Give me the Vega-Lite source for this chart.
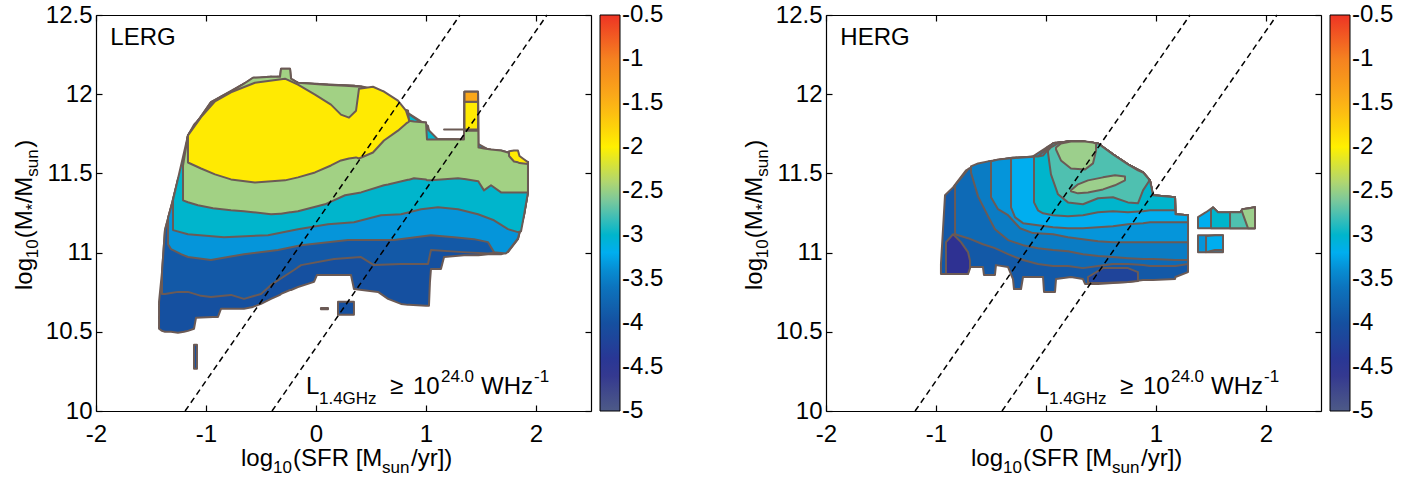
{
"$schema": "https://vega.github.io/schema/vega-lite/v6.json",
"background": "white",
"padding": {"left": 12, "top": 3, "right": 5, "bottom": 2},
"spacing": 78,
"resolve": {"scale": {"color": "independent"}},
"config": {
  "font": "Liberation Sans",
  "view": {"stroke": null},
  "axis": {"grid": false, "domainColor": "#000", "domainWidth": 1.2, "tickColor": "#000", "tickWidth": 1.2, "tickSize": -6, "labelPadding": 10, "labelFont": "Liberation Sans", "labelFontSize": 24, "labelColor": "#000", "labelFlush": false, "labelOverlap": false, "title": null},
  "legend": {"gradientVerticalMaxLength": 500, "gradientLength": 396, "gradientThickness": 20, "padding": 0, "offset": 8, "labelFont": "Liberation Sans", "labelFontSize": 24, "labelColor": "#000", "labelOffset": 3, "labelOverlap": false, "gradientStrokeColor": "#000", "gradientStrokeWidth": 1}
},
"datasets": {
"lines": [{"x1": -1.19, "y1": 10, "x2": 1.31, "y2": 12.5}, {"x1": -0.40, "y1": 10, "x2": 2.10, "y2": 12.5}],
"txt": [
{"p": "L", "g": "t24", "label": "LERG", "x": -1.87, "y": 12.311},
{"p": "R", "g": "t24", "label": "HERG", "x": -1.87, "y": 12.311},
{"p": "both", "g": "t24", "label": "L", "x": -0.091, "y": 10.107},
{"p": "both", "g": "t24", "label": "≥", "x": 0.673, "y": 10.107},
{"p": "both", "g": "t24", "label": "10", "x": 0.882, "y": 10.107},
{"p": "both", "g": "t24", "label": "WHz", "x": 1.50, "y": 10.107},
{"p": "both", "g": "t24", "label": "log", "x": -0.682, "y": 9.653},
{"p": "both", "g": "t24", "label": "(SFR [M", "x": -0.209, "y": 9.653},
{"p": "both", "g": "t24", "label": "/yr])", "x": 0.864, "y": 9.653},
{"p": "both", "g": "t17", "label": "1.4GHz", "x": 0.027, "y": 10.045},
{"p": "both", "g": "t17", "label": "24.0", "x": 1.136, "y": 10.183},
{"p": "both", "g": "t17", "label": "-1", "x": 1.982, "y": 10.183},
{"p": "both", "g": "t17", "label": "10", "x": -0.391, "y": 9.609},
{"p": "both", "g": "t17", "label": "sun", "x": 0.60, "y": 9.609},
{"p": "both", "g": "r24", "label": "log", "x": -2.582, "y": 10.764},
{"p": "both", "g": "r24", "label": "(M", "x": -2.582, "y": 11.091},
{"p": "both", "g": "r24", "label": "/M", "x": -2.582, "y": 11.311},
{"p": "both", "g": "r24", "label": ")", "x": -2.582, "y": 11.662},
{"p": "both", "g": "r17", "label": "10", "x": -2.527, "y": 10.965},
{"p": "both", "g": "r17", "label": "*", "x": -2.527, "y": 11.267},
{"p": "both", "g": "r17", "label": "sun", "x": -2.527, "y": 11.479}
],
"regions": [
{"p":"L","r":"O","v":-4,"x":-1.427,"lo":10.519,"hi":10.689},
{"p":"L","r":"O","v":-4,"x":-1.400,"lo":10.506,"hi":10.877},
{"p":"L","r":"O","v":-4,"x":-1.373,"lo":10.50,"hi":11.142},
{"p":"L","r":"O","v":-4,"x":-1.318,"lo":10.50,"hi":11.286},
{"p":"L","r":"O","v":-4,"x":-1.255,"lo":10.494,"hi":11.462},
{"p":"L","r":"O","v":-4,"x":-1.200,"lo":10.50,"hi":11.550},
{"p":"L","r":"O","v":-4,"x":-1.164,"lo":10.506,"hi":11.739},
{"p":"L","r":"O","v":-4,"x":-1.109,"lo":10.519,"hi":11.808},
{"p":"L","r":"O","v":-4,"x":-1.091,"lo":10.588,"hi":11.821},
{"p":"L","r":"O","v":-4,"x":-0.936,"lo":10.594,"hi":11.947},
{"p":"L","r":"O","v":-4,"x":-0.891,"lo":10.594,"hi":11.972},
{"p":"L","r":"O","v":-4,"x":-0.864,"lo":10.645,"hi":11.984},
{"p":"L","r":"O","v":-4,"x":-0.773,"lo":10.645,"hi":12.016},
{"p":"L","r":"O","v":-4,"x":-0.655,"lo":10.645,"hi":12.066},
{"p":"L","r":"O","v":-4,"x":-0.573,"lo":10.657,"hi":12.104},
{"p":"L","r":"O","v":-4,"x":-0.50,"lo":10.676,"hi":12.104},
{"p":"L","r":"O","v":-4,"x":-0.409,"lo":10.708,"hi":12.11},
{"p":"L","r":"O","v":-4,"x":-0.327,"lo":10.733,"hi":12.11},
{"p":"L","r":"O","v":-4,"x":-0.318,"lo":10.739,"hi":12.16},
{"p":"L","r":"O","v":-4,"x":-0.236,"lo":10.764,"hi":12.16},
{"p":"L","r":"O","v":-4,"x":-0.227,"lo":10.764,"hi":12.098},
{"p":"L","r":"O","v":-4,"x":-0.164,"lo":10.783,"hi":12.072},
{"p":"L","r":"O","v":-4,"x":-0.018,"lo":10.815,"hi":12.066},
{"p":"L","r":"O","v":-4,"x":0.009,"lo":10.859,"hi":12.066},
{"p":"L","r":"O","v":-4,"x":0.109,"lo":10.859,"hi":12.06},
{"p":"L","r":"O","v":-4,"x":0.318,"lo":10.859,"hi":12.053},
{"p":"L","r":"O","v":-4,"x":0.345,"lo":10.770,"hi":12.053},
{"p":"L","r":"O","v":-4,"x":0.564,"lo":10.752,"hi":12.022},
{"p":"L","r":"O","v":-4,"x":0.655,"lo":10.708,"hi":11.928},
{"p":"L","r":"O","v":-4,"x":0.773,"lo":10.676,"hi":11.909},
{"p":"L","r":"O","v":-4,"x":0.836,"lo":10.670,"hi":11.896},
{"p":"L","r":"O","v":-4,"x":0.845,"lo":10.670,"hi":11.833},
{"p":"L","r":"O","v":-4,"x":1.0,"lo":10.664,"hi":11.821},
{"p":"L","r":"O","v":-4,"x":1.009,"lo":10.664,"hi":11.714},
{"p":"L","r":"O","v":-4,"x":1.027,"lo":10.664,"hi":11.714},
{"p":"L","r":"O","v":-4,"x":1.036,"lo":10.815,"hi":11.714},
{"p":"L","r":"O","v":-4,"x":1.045,"lo":10.896,"hi":11.714},
{"p":"L","r":"O","v":-4,"x":1.136,"lo":10.896,"hi":11.714},
{"p":"L","r":"O","v":-4,"x":1.164,"lo":10.972,"hi":11.714},
{"p":"L","r":"O","v":-4,"x":1.345,"lo":10.984,"hi":11.714},
{"p":"L","r":"O","v":-4,"x":1.35,"lo":10.984,"hi":12.016},
{"p":"L","r":"O","v":-4,"x":1.473,"lo":10.984,"hi":12.016},
{"p":"L","r":"O","v":-4,"x":1.477,"lo":10.984,"hi":11.664},
{"p":"L","r":"O","v":-4,"x":1.564,"lo":10.990,"hi":11.651},
{"p":"L","r":"O","v":-4,"x":1.682,"lo":10.990,"hi":11.645},
{"p":"L","r":"O","v":-4,"x":1.745,"lo":11.003,"hi":11.632},
{"p":"L","r":"O","v":-4,"x":1.836,"lo":11.085,"hi":11.601},
{"p":"L","r":"O","v":-4,"x":1.891,"lo":11.236,"hi":11.582},
{"p":"L","r":"O","v":-4,"x":1.927,"lo":11.380,"hi":11.569},
{"p":"L","r":"rect","v":-4,"x":0.2,"lo":10.607,"hi":10.689},
{"p":"L","r":"rect","v":-4,"x":0.345,"lo":10.607,"hi":10.689},
{"p":"L","r":"sliver","v":-4,"x":-1.109,"lo":10.267,"hi":10.418},
{"p":"L","r":"sliver","v":-4,"x":-1.082,"lo":10.267,"hi":10.418},
{"p":"L","r":"dash","v":-4,"x":0.045,"lo":10.643,"hi":10.65},
{"p":"L","r":"dash","v":-4,"x":0.109,"lo":10.643,"hi":10.65},
{"p":"L","r":"A","v":-3.9,"x":-1.400,"lo":10.739,"hi":10.877},
{"p":"L","r":"A","v":-3.9,"x":-1.373,"lo":10.739,"hi":11.142},
{"p":"L","r":"A","v":-3.9,"x":-1.318,"lo":10.745,"hi":11.286},
{"p":"L","r":"A","v":-3.9,"x":-1.255,"lo":10.752,"hi":11.462},
{"p":"L","r":"A","v":-3.9,"x":-1.200,"lo":10.752,"hi":11.550},
{"p":"L","r":"A","v":-3.9,"x":-1.164,"lo":10.752,"hi":11.739},
{"p":"L","r":"A","v":-3.9,"x":-1.045,"lo":10.727,"hi":11.86},
{"p":"L","r":"A","v":-3.9,"x":-0.955,"lo":10.72,"hi":11.95},
{"p":"L","r":"A","v":-3.9,"x":-0.773,"lo":10.733,"hi":12.016},
{"p":"L","r":"A","v":-3.9,"x":-0.655,"lo":10.708,"hi":12.066},
{"p":"L","r":"A","v":-3.9,"x":-0.50,"lo":10.739,"hi":12.104},
{"p":"L","r":"A","v":-3.9,"x":-0.409,"lo":10.796,"hi":12.11},
{"p":"L","r":"A","v":-3.9,"x":-0.20,"lo":10.890,"hi":12.07},
{"p":"L","r":"A","v":-3.9,"x":-0.136,"lo":10.921,"hi":12.066},
{"p":"L","r":"A","v":-3.9,"x":0.164,"lo":10.959,"hi":12.06},
{"p":"L","r":"A","v":-3.9,"x":0.409,"lo":10.972,"hi":12.05},
{"p":"L","r":"A","v":-3.9,"x":0.527,"lo":10.921,"hi":12.03},
{"p":"L","r":"A","v":-3.9,"x":0.773,"lo":10.928,"hi":11.909},
{"p":"L","r":"A","v":-3.9,"x":1.018,"lo":10.928,"hi":11.80},
{"p":"L","r":"A","v":-3.9,"x":1.045,"lo":11.016,"hi":11.714},
{"p":"L","r":"A","v":-3.9,"x":1.336,"lo":11.003,"hi":11.714},
{"p":"L","r":"A","v":-3.9,"x":1.564,"lo":10.995,"hi":11.651},
{"p":"L","r":"A","v":-3.9,"x":1.745,"lo":11.008,"hi":11.632},
{"p":"L","r":"A","v":-3.9,"x":1.836,"lo":11.09,"hi":11.601},
{"p":"L","r":"A","v":-3.9,"x":1.891,"lo":11.24,"hi":11.582},
{"p":"L","r":"A","v":-3.9,"x":1.927,"lo":11.385,"hi":11.569},
{"p":"L","r":"B","v":-3.35,"x":-1.345,"lo":11.053,"hi":11.22},
{"p":"L","r":"B","v":-3.35,"x":-1.318,"lo":11.022,"hi":11.286},
{"p":"L","r":"B","v":-3.35,"x":-1.227,"lo":10.990,"hi":11.475},
{"p":"L","r":"B","v":-3.35,"x":-1.164,"lo":10.972,"hi":11.739},
{"p":"L","r":"B","v":-3.35,"x":-0.955,"lo":10.953,"hi":11.95},
{"p":"L","r":"B","v":-3.35,"x":-0.655,"lo":10.990,"hi":12.066},
{"p":"L","r":"B","v":-3.35,"x":-0.345,"lo":11.016,"hi":12.11},
{"p":"L","r":"B","v":-3.35,"x":-0.136,"lo":11.047,"hi":12.066},
{"p":"L","r":"B","v":-3.35,"x":0.291,"lo":11.079,"hi":12.05},
{"p":"L","r":"B","v":-3.35,"x":0.709,"lo":11.079,"hi":11.95},
{"p":"L","r":"B","v":-3.35,"x":1.045,"lo":11.110,"hi":11.714},
{"p":"L","r":"B","v":-3.35,"x":1.255,"lo":11.097,"hi":11.714},
{"p":"L","r":"B","v":-3.35,"x":1.436,"lo":11.085,"hi":11.70},
{"p":"L","r":"B","v":-3.35,"x":1.564,"lo":11.066,"hi":11.651},
{"p":"L","r":"B","v":-3.35,"x":1.618,"lo":11.003,"hi":11.645},
{"p":"L","r":"B","v":-3.35,"x":1.727,"lo":10.995,"hi":11.635},
{"p":"L","r":"B","v":-3.35,"x":1.745,"lo":11.008,"hi":11.632},
{"p":"L","r":"B","v":-3.35,"x":1.836,"lo":11.09,"hi":11.601},
{"p":"L","r":"B","v":-3.35,"x":1.891,"lo":11.24,"hi":11.582},
{"p":"L","r":"B","v":-3.35,"x":1.927,"lo":11.385,"hi":11.569},
{"p":"L","r":"C","v":-3.0,"x":-1.300,"lo":11.142,"hi":11.33},
{"p":"L","r":"C","v":-3.0,"x":-1.164,"lo":11.116,"hi":11.739},
{"p":"L","r":"C","v":-3.0,"x":-0.836,"lo":11.097,"hi":11.99},
{"p":"L","r":"C","v":-3.0,"x":-0.436,"lo":11.110,"hi":12.11},
{"p":"L","r":"C","v":-3.0,"x":-0.164,"lo":11.148,"hi":12.072},
{"p":"L","r":"C","v":-3.0,"x":0.109,"lo":11.179,"hi":12.06},
{"p":"L","r":"C","v":-3.0,"x":0.345,"lo":11.192,"hi":12.053},
{"p":"L","r":"C","v":-3.0,"x":0.591,"lo":11.236,"hi":12.02},
{"p":"L","r":"C","v":-3.0,"x":0.773,"lo":11.242,"hi":11.909},
{"p":"L","r":"C","v":-3.0,"x":0.955,"lo":11.274,"hi":11.821},
{"p":"L","r":"C","v":-3.0,"x":1.109,"lo":11.286,"hi":11.714},
{"p":"L","r":"C","v":-3.0,"x":1.291,"lo":11.274,"hi":11.714},
{"p":"L","r":"C","v":-3.0,"x":1.473,"lo":11.242,"hi":11.664},
{"p":"L","r":"C","v":-3.0,"x":1.618,"lo":11.204,"hi":11.645},
{"p":"L","r":"C","v":-3.0,"x":1.745,"lo":11.148,"hi":11.632},
{"p":"L","r":"C","v":-3.0,"x":1.836,"lo":11.129,"hi":11.601},
{"p":"L","r":"C","v":-3.0,"x":1.864,"lo":11.135,"hi":11.59},
{"p":"L","r":"C","v":-3.0,"x":1.891,"lo":11.236,"hi":11.582},
{"p":"L","r":"C","v":-3.0,"x":1.927,"lo":11.38,"hi":11.569},
{"p":"L","r":"D","v":-2.47,"x":-1.209,"lo":11.330,"hi":11.550},
{"p":"L","r":"D","v":-2.47,"x":-1.164,"lo":11.318,"hi":11.739},
{"p":"L","r":"D","v":-2.47,"x":-1.073,"lo":11.299,"hi":11.833},
{"p":"L","r":"D","v":-2.47,"x":-0.936,"lo":11.280,"hi":11.947},
{"p":"L","r":"D","v":-2.47,"x":-0.773,"lo":11.267,"hi":12.016},
{"p":"L","r":"D","v":-2.47,"x":-0.655,"lo":11.261,"hi":12.066},
{"p":"L","r":"D","v":-2.47,"x":-0.573,"lo":11.255,"hi":12.104},
{"p":"L","r":"D","v":-2.47,"x":-0.409,"lo":11.242,"hi":12.11},
{"p":"L","r":"D","v":-2.47,"x":-0.327,"lo":11.245,"hi":12.11},
{"p":"L","r":"D","v":-2.47,"x":-0.318,"lo":11.245,"hi":12.16},
{"p":"L","r":"D","v":-2.47,"x":-0.236,"lo":11.255,"hi":12.16},
{"p":"L","r":"D","v":-2.47,"x":-0.227,"lo":11.255,"hi":12.098},
{"p":"L","r":"D","v":-2.47,"x":-0.164,"lo":11.261,"hi":12.072},
{"p":"L","r":"D","v":-2.47,"x":0.082,"lo":11.305,"hi":12.06},
{"p":"L","r":"D","v":-2.47,"x":0.264,"lo":11.362,"hi":12.053},
{"p":"L","r":"D","v":-2.47,"x":0.409,"lo":11.380,"hi":12.047},
{"p":"L","r":"D","v":-2.47,"x":0.618,"lo":11.425,"hi":12.016},
{"p":"L","r":"D","v":-2.47,"x":0.655,"lo":11.430,"hi":11.928},
{"p":"L","r":"D","v":-2.47,"x":0.836,"lo":11.460,"hi":11.896},
{"p":"L","r":"D","v":-2.47,"x":0.845,"lo":11.460,"hi":11.833},
{"p":"L","r":"D","v":-2.47,"x":0.891,"lo":11.469,"hi":11.827},
{"p":"L","r":"D","v":-2.47,"x":1.0,"lo":11.462,"hi":11.821},
{"p":"L","r":"D","v":-2.47,"x":1.009,"lo":11.456,"hi":11.714},
{"p":"L","r":"D","v":-2.47,"x":1.045,"lo":11.456,"hi":11.714},
{"p":"L","r":"D","v":-2.47,"x":1.291,"lo":11.469,"hi":11.714},
{"p":"L","r":"D","v":-2.47,"x":1.345,"lo":11.465,"hi":11.714},
{"p":"L","r":"D","v":-2.47,"x":1.35,"lo":11.465,"hi":12.016},
{"p":"L","r":"D","v":-2.47,"x":1.473,"lo":11.450,"hi":12.016},
{"p":"L","r":"D","v":-2.47,"x":1.477,"lo":11.450,"hi":11.664},
{"p":"L","r":"D","v":-2.47,"x":1.482,"lo":11.443,"hi":11.664},
{"p":"L","r":"D","v":-2.47,"x":1.527,"lo":11.393,"hi":11.657},
{"p":"L","r":"D","v":-2.47,"x":1.591,"lo":11.425,"hi":11.651},
{"p":"L","r":"D","v":-2.47,"x":1.682,"lo":11.380,"hi":11.645},
{"p":"L","r":"D","v":-2.47,"x":1.745,"lo":11.380,"hi":11.632},
{"p":"L","r":"D","v":-2.47,"x":1.836,"lo":11.380,"hi":11.601},
{"p":"L","r":"D","v":-2.47,"x":1.909,"lo":11.380,"hi":11.576},
{"p":"L","r":"D","v":-2.47,"x":1.927,"lo":11.380,"hi":11.569},
{"p":"L","r":"Y","v":-1.95,"x":-1.164,"lo":11.569,"hi":11.739},
{"p":"L","r":"Y","v":-1.95,"x":-1.045,"lo":11.531,"hi":11.855},
{"p":"L","r":"Y","v":-1.95,"x":-0.918,"lo":11.494,"hi":11.955},
{"p":"L","r":"Y","v":-1.95,"x":-0.773,"lo":11.462,"hi":12.012},
{"p":"L","r":"Y","v":-1.95,"x":-0.555,"lo":11.443,"hi":12.072},
{"p":"L","r":"Y","v":-1.95,"x":-0.282,"lo":11.456,"hi":12.098},
{"p":"L","r":"Y","v":-1.95,"x":-0.164,"lo":11.475,"hi":12.06},
{"p":"L","r":"Y","v":-1.95,"x":-0.009,"lo":11.506,"hi":11.997},
{"p":"L","r":"Y","v":-1.95,"x":0.136,"lo":11.550,"hi":11.934},
{"p":"L","r":"Y","v":-1.95,"x":0.227,"lo":11.582,"hi":11.871},
{"p":"L","r":"Y","v":-1.95,"x":0.30,"lo":11.594,"hi":11.852},
{"p":"L","r":"Y","v":-1.95,"x":0.364,"lo":11.601,"hi":11.896},
{"p":"L","r":"Y","v":-1.95,"x":0.391,"lo":11.594,"hi":12.035},
{"p":"L","r":"Y","v":-1.95,"x":0.518,"lo":11.632,"hi":12.047},
{"p":"L","r":"Y","v":-1.95,"x":0.618,"lo":11.708,"hi":12.016},
{"p":"L","r":"Y","v":-1.95,"x":0.745,"lo":11.770,"hi":11.959},
{"p":"L","r":"Y","v":-1.95,"x":0.818,"lo":11.814,"hi":11.896},
{"p":"L","r":"Y","v":-1.95,"x":0.845,"lo":11.827,"hi":11.839},
{"p":"L","r":"Yb","v":-1.95,"x":1.755,"lo":11.61,"hi":11.64},
{"p":"L","r":"Yb","v":-1.95,"x":1.80,"lo":11.575,"hi":11.645},
{"p":"L","r":"Yb","v":-1.95,"x":1.836,"lo":11.57,"hi":11.645},
{"p":"L","r":"Yb","v":-1.95,"x":1.85,"lo":11.565,"hi":11.61},
{"p":"L","r":"Yb","v":-1.95,"x":1.927,"lo":11.56,"hi":11.57},
{"p":"L","r":"Sy","v":-1.95,"x":1.35,"lo":11.77,"hi":11.952},
{"p":"L","r":"Sy","v":-1.95,"x":1.473,"lo":11.77,"hi":11.952},
{"p":"L","r":"So","v":-1.4,"x":1.35,"lo":11.952,"hi":12.016},
{"p":"L","r":"So","v":-1.4,"x":1.473,"lo":11.952,"hi":12.016},
{"p":"L","r":"line","v":-2.47,"x":1.164,"lo":11.777,"hi":11.777},
{"p":"L","r":"line","v":-2.47,"x":1.473,"lo":11.777,"hi":11.777},
{"p":"R","r":"O","v":-3.9,"x":-0.955,"lo":10.865,"hi":10.928},
{"p":"R","r":"O","v":-3.9,"x":-0.918,"lo":10.865,"hi":11.362},
{"p":"R","r":"O","v":-3.9,"x":-0.845,"lo":10.865,"hi":11.412},
{"p":"R","r":"O","v":-3.9,"x":-0.727,"lo":10.865,"hi":11.519},
{"p":"R","r":"O","v":-3.9,"x":-0.709,"lo":10.865,"hi":11.525},
{"p":"R","r":"O","v":-3.9,"x":-0.70,"lo":10.909,"hi":11.531},
{"p":"R","r":"O","v":-3.9,"x":-0.573,"lo":10.909,"hi":11.563},
{"p":"R","r":"O","v":-3.9,"x":-0.564,"lo":10.859,"hi":11.563},
{"p":"R","r":"O","v":-3.9,"x":-0.464,"lo":10.859,"hi":11.582},
{"p":"R","r":"O","v":-3.9,"x":-0.455,"lo":10.921,"hi":11.582},
{"p":"R","r":"O","v":-3.9,"x":-0.345,"lo":10.909,"hi":11.594},
{"p":"R","r":"O","v":-3.9,"x":-0.30,"lo":10.833,"hi":11.601},
{"p":"R","r":"O","v":-3.9,"x":-0.291,"lo":10.770,"hi":11.601},
{"p":"R","r":"O","v":-3.9,"x":-0.227,"lo":10.770,"hi":11.601},
{"p":"R","r":"O","v":-3.9,"x":-0.209,"lo":10.846,"hi":11.601},
{"p":"R","r":"O","v":-3.9,"x":-0.027,"lo":10.846,"hi":11.613},
{"p":"R","r":"O","v":-3.9,"x":-0.018,"lo":10.752,"hi":11.620},
{"p":"R","r":"O","v":-3.9,"x":0.009,"lo":10.752,"hi":11.664},
{"p":"R","r":"O","v":-3.9,"x":0.082,"lo":10.752,"hi":11.695},
{"p":"R","r":"O","v":-3.9,"x":0.091,"lo":10.833,"hi":11.695},
{"p":"R","r":"O","v":-3.9,"x":0.227,"lo":10.846,"hi":11.701},
{"p":"R","r":"O","v":-3.9,"x":0.336,"lo":10.833,"hi":11.701},
{"p":"R","r":"O","v":-3.9,"x":0.355,"lo":10.802,"hi":11.695},
{"p":"R","r":"O","v":-3.9,"x":0.473,"lo":10.802,"hi":11.689},
{"p":"R","r":"O","v":-3.9,"x":0.609,"lo":10.808,"hi":11.620},
{"p":"R","r":"O","v":-3.9,"x":0.745,"lo":10.815,"hi":11.557},
{"p":"R","r":"O","v":-3.9,"x":0.882,"lo":10.827,"hi":11.506},
{"p":"R","r":"O","v":-3.9,"x":0.945,"lo":10.827,"hi":11.456},
{"p":"R","r":"O","v":-3.9,"x":0.973,"lo":10.827,"hi":11.362},
{"p":"R","r":"O","v":-3.9,"x":1.173,"lo":10.833,"hi":11.349},
{"p":"R","r":"O","v":-3.9,"x":1.177,"lo":10.846,"hi":11.242},
{"p":"R","r":"O","v":-3.9,"x":1.291,"lo":10.877,"hi":11.236},
{"p":"R","r":"ind","v":-4.5,"x":-0.909,"lo":10.865,"hi":11.066},
{"p":"R","r":"ind","v":-4.5,"x":-0.845,"lo":10.865,"hi":11.116},
{"p":"R","r":"ind","v":-4.5,"x":-0.773,"lo":10.865,"hi":11.066},
{"p":"R","r":"ind","v":-4.5,"x":-0.709,"lo":10.865,"hi":11.003},
{"p":"R","r":"ind","v":-4.5,"x":-0.691,"lo":10.90,"hi":10.95},
{"p":"R","r":"dk","v":-4.2,"x":0.382,"lo":10.808,"hi":10.846},
{"p":"R","r":"dk","v":-4.2,"x":0.518,"lo":10.808,"hi":10.902},
{"p":"R","r":"dk","v":-4.2,"x":0.745,"lo":10.815,"hi":10.902},
{"p":"R","r":"dk","v":-4.2,"x":0.836,"lo":10.821,"hi":10.877},
{"p":"R","r":"R2","v":-3.7,"x":-0.827,"lo":11.116,"hi":11.425},
{"p":"R","r":"R2","v":-3.7,"x":-0.709,"lo":11.091,"hi":11.525},
{"p":"R","r":"R2","v":-3.7,"x":-0.573,"lo":11.053,"hi":11.563},
{"p":"R","r":"R2","v":-3.7,"x":-0.464,"lo":11.028,"hi":11.582},
{"p":"R","r":"R2","v":-3.7,"x":-0.345,"lo":10.990,"hi":11.594},
{"p":"R","r":"R2","v":-3.7,"x":-0.209,"lo":10.953,"hi":11.601},
{"p":"R","r":"R2","v":-3.7,"x":-0.073,"lo":10.928,"hi":11.607},
{"p":"R","r":"R2","v":-3.7,"x":0.064,"lo":10.915,"hi":11.689},
{"p":"R","r":"R2","v":-3.7,"x":0.20,"lo":10.915,"hi":11.701},
{"p":"R","r":"R2","v":-3.7,"x":0.336,"lo":10.902,"hi":11.701},
{"p":"R","r":"R2","v":-3.7,"x":0.473,"lo":10.915,"hi":11.689},
{"p":"R","r":"R2","v":-3.7,"x":0.609,"lo":10.928,"hi":11.620},
{"p":"R","r":"R2","v":-3.7,"x":0.745,"lo":10.928,"hi":11.557},
{"p":"R","r":"R2","v":-3.7,"x":0.882,"lo":10.921,"hi":11.506},
{"p":"R","r":"R2","v":-3.7,"x":0.945,"lo":10.915,"hi":11.456},
{"p":"R","r":"R2","v":-3.7,"x":0.973,"lo":10.915,"hi":11.362},
{"p":"R","r":"R2","v":-3.7,"x":1.173,"lo":10.915,"hi":11.349},
{"p":"R","r":"R2","v":-3.7,"x":1.177,"lo":10.915,"hi":11.242},
{"p":"R","r":"R2","v":-3.7,"x":1.291,"lo":10.928,"hi":11.236},
{"p":"R","r":"R3","v":-3.5,"x":-0.682,"lo":11.506,"hi":11.544},
{"p":"R","r":"R3","v":-3.5,"x":-0.618,"lo":11.355,"hi":11.563},
{"p":"R","r":"R3","v":-3.5,"x":-0.527,"lo":11.23,"hi":11.576},
{"p":"R","r":"R3","v":-3.5,"x":-0.464,"lo":11.148,"hi":11.582},
{"p":"R","r":"R3","v":-3.5,"x":-0.345,"lo":11.079,"hi":11.594},
{"p":"R","r":"R3","v":-3.5,"x":-0.209,"lo":11.047,"hi":11.601},
{"p":"R","r":"R3","v":-3.5,"x":-0.073,"lo":11.028,"hi":11.607},
{"p":"R","r":"R3","v":-3.5,"x":0.064,"lo":11.016,"hi":11.689},
{"p":"R","r":"R3","v":-3.5,"x":0.20,"lo":11.009,"hi":11.701},
{"p":"R","r":"R3","v":-3.5,"x":0.336,"lo":10.990,"hi":11.701},
{"p":"R","r":"R3","v":-3.5,"x":0.473,"lo":10.978,"hi":11.689},
{"p":"R","r":"R3","v":-3.5,"x":0.609,"lo":10.972,"hi":11.620},
{"p":"R","r":"R3","v":-3.5,"x":0.745,"lo":10.965,"hi":11.557},
{"p":"R","r":"R3","v":-3.5,"x":0.882,"lo":10.959,"hi":11.506},
{"p":"R","r":"R3","v":-3.5,"x":0.945,"lo":10.959,"hi":11.456},
{"p":"R","r":"R3","v":-3.5,"x":0.973,"lo":10.959,"hi":11.362},
{"p":"R","r":"R3","v":-3.5,"x":1.173,"lo":10.953,"hi":11.349},
{"p":"R","r":"R3","v":-3.5,"x":1.177,"lo":10.953,"hi":11.242},
{"p":"R","r":"R3","v":-3.5,"x":1.291,"lo":10.953,"hi":11.236},
{"p":"R","r":"R4","v":-3.35,"x":-0.50,"lo":11.349,"hi":11.576},
{"p":"R","r":"R4","v":-3.35,"x":-0.436,"lo":11.274,"hi":11.588},
{"p":"R","r":"R4","v":-3.35,"x":-0.345,"lo":11.236,"hi":11.594},
{"p":"R","r":"R4","v":-3.35,"x":-0.236,"lo":11.154,"hi":11.601},
{"p":"R","r":"R4","v":-3.35,"x":-0.118,"lo":11.123,"hi":11.607},
{"p":"R","r":"R4","v":-3.35,"x":0.064,"lo":11.116,"hi":11.689},
{"p":"R","r":"R4","v":-3.35,"x":0.20,"lo":11.097,"hi":11.701},
{"p":"R","r":"R4","v":-3.35,"x":0.336,"lo":11.085,"hi":11.701},
{"p":"R","r":"R4","v":-3.35,"x":0.473,"lo":11.072,"hi":11.689},
{"p":"R","r":"R4","v":-3.35,"x":0.609,"lo":11.066,"hi":11.620},
{"p":"R","r":"R4","v":-3.35,"x":0.745,"lo":11.066,"hi":11.557},
{"p":"R","r":"R4","v":-3.35,"x":0.882,"lo":11.066,"hi":11.506},
{"p":"R","r":"R4","v":-3.35,"x":0.945,"lo":11.066,"hi":11.456},
{"p":"R","r":"R4","v":-3.35,"x":0.973,"lo":11.066,"hi":11.362},
{"p":"R","r":"R4","v":-3.35,"x":1.173,"lo":11.066,"hi":11.349},
{"p":"R","r":"R4","v":-3.35,"x":1.177,"lo":11.066,"hi":11.242},
{"p":"R","r":"R4","v":-3.35,"x":1.291,"lo":11.066,"hi":11.236},
{"p":"R","r":"R5","v":-3.2,"x":-0.318,"lo":11.286,"hi":11.594},
{"p":"R","r":"R5","v":-3.2,"x":-0.282,"lo":11.224,"hi":11.597},
{"p":"R","r":"R5","v":-3.2,"x":-0.209,"lo":11.186,"hi":11.601},
{"p":"R","r":"R5","v":-3.2,"x":-0.073,"lo":11.173,"hi":11.607},
{"p":"R","r":"R5","v":-3.2,"x":0.064,"lo":11.160,"hi":11.689},
{"p":"R","r":"R5","v":-3.2,"x":0.20,"lo":11.154,"hi":11.701},
{"p":"R","r":"R5","v":-3.2,"x":0.336,"lo":11.154,"hi":11.701},
{"p":"R","r":"R5","v":-3.2,"x":0.473,"lo":11.160,"hi":11.689},
{"p":"R","r":"R5","v":-3.2,"x":0.609,"lo":11.167,"hi":11.620},
{"p":"R","r":"R5","v":-3.2,"x":0.745,"lo":11.179,"hi":11.557},
{"p":"R","r":"R5","v":-3.2,"x":0.882,"lo":11.186,"hi":11.506},
{"p":"R","r":"R5","v":-3.2,"x":0.945,"lo":11.192,"hi":11.456},
{"p":"R","r":"R5","v":-3.2,"x":0.973,"lo":11.192,"hi":11.362},
{"p":"R","r":"R5","v":-3.2,"x":1.173,"lo":11.192,"hi":11.349},
{"p":"R","r":"R5","v":-3.2,"x":1.177,"lo":11.192,"hi":11.242},
{"p":"R","r":"R5","v":-3.2,"x":1.291,"lo":11.192,"hi":11.236},
{"p":"R","r":"R6","v":-3.0,"x":-0.109,"lo":11.317,"hi":11.607},
{"p":"R","r":"R6","v":-3.0,"x":-0.073,"lo":11.267,"hi":11.607},
{"p":"R","r":"R6","v":-3.0,"x":-0.027,"lo":11.248,"hi":11.613},
{"p":"R","r":"R6","v":-3.0,"x":0.064,"lo":11.236,"hi":11.689},
{"p":"R","r":"R6","v":-3.0,"x":0.20,"lo":11.229,"hi":11.701},
{"p":"R","r":"R6","v":-3.0,"x":0.336,"lo":11.236,"hi":11.701},
{"p":"R","r":"R6","v":-3.0,"x":0.473,"lo":11.255,"hi":11.689},
{"p":"R","r":"R6","v":-3.0,"x":0.609,"lo":11.261,"hi":11.620},
{"p":"R","r":"R6","v":-3.0,"x":0.745,"lo":11.255,"hi":11.557},
{"p":"R","r":"R6","v":-3.0,"x":0.882,"lo":11.261,"hi":11.506},
{"p":"R","r":"R6","v":-3.0,"x":0.945,"lo":11.267,"hi":11.456},
{"p":"R","r":"R6","v":-3.0,"x":0.973,"lo":11.267,"hi":11.362},
{"p":"R","r":"R6","v":-3.0,"x":1.173,"lo":11.267,"hi":11.349},
{"p":"R","r":"R7","v":-2.75,"x":0.018,"lo":11.632,"hi":11.645},
{"p":"R","r":"R7","v":-2.75,"x":0.045,"lo":11.494,"hi":11.664},
{"p":"R","r":"R7","v":-2.75,"x":0.109,"lo":11.368,"hi":11.689},
{"p":"R","r":"R7","v":-2.75,"x":0.20,"lo":11.317,"hi":11.701},
{"p":"R","r":"R7","v":-2.75,"x":0.336,"lo":11.305,"hi":11.701},
{"p":"R","r":"R7","v":-2.75,"x":0.473,"lo":11.343,"hi":11.689},
{"p":"R","r":"R7","v":-2.75,"x":0.609,"lo":11.349,"hi":11.620},
{"p":"R","r":"R7","v":-2.75,"x":0.745,"lo":11.317,"hi":11.557},
{"p":"R","r":"R7","v":-2.75,"x":0.836,"lo":11.311,"hi":11.519},
{"p":"R","r":"R7","v":-2.75,"x":0.882,"lo":11.393,"hi":11.506},
{"p":"R","r":"R7","v":-2.75,"x":0.936,"lo":11.450,"hi":11.462},
{"p":"R","r":"G1","v":-2.5,"x":0.091,"lo":11.651,"hi":11.664},
{"p":"R","r":"G1","v":-2.5,"x":0.136,"lo":11.582,"hi":11.689},
{"p":"R","r":"G1","v":-2.5,"x":0.227,"lo":11.531,"hi":11.701},
{"p":"R","r":"G1","v":-2.5,"x":0.355,"lo":11.525,"hi":11.701},
{"p":"R","r":"G1","v":-2.5,"x":0.427,"lo":11.563,"hi":11.695},
{"p":"R","r":"G1","v":-2.5,"x":0.455,"lo":11.645,"hi":11.689},
{"p":"R","r":"G2","v":-2.5,"x":0.227,"lo":11.387,"hi":11.393},
{"p":"R","r":"G2","v":-2.5,"x":0.291,"lo":11.374,"hi":11.431},
{"p":"R","r":"G2","v":-2.5,"x":0.382,"lo":11.380,"hi":11.456},
{"p":"R","r":"G2","v":-2.5,"x":0.518,"lo":11.399,"hi":11.475},
{"p":"R","r":"G2","v":-2.5,"x":0.627,"lo":11.425,"hi":11.488},
{"p":"R","r":"G2","v":-2.5,"x":0.718,"lo":11.456,"hi":11.481},
{"p":"R","r":"Sa","v":-3.2,"x":1.382,"lo":11.154,"hi":11.224},
{"p":"R","r":"Sa","v":-3.2,"x":1.455,"lo":11.154,"hi":11.255},
{"p":"R","r":"Sa","v":-3.2,"x":1.518,"lo":11.154,"hi":11.286},
{"p":"R","r":"Sa","v":-3.2,"x":1.564,"lo":11.154,"hi":11.255},
{"p":"R","r":"Sa","v":-3.2,"x":1.764,"lo":11.154,"hi":11.255},
{"p":"R","r":"Sa","v":-3.2,"x":1.791,"lo":11.154,"hi":11.274},
{"p":"R","r":"Sa","v":-3.2,"x":1.90,"lo":11.154,"hi":11.286},
{"p":"R","r":"Sb","v":-3.0,"x":1.50,"lo":11.154,"hi":11.27},
{"p":"R","r":"Sb","v":-3.0,"x":1.518,"lo":11.154,"hi":11.286},
{"p":"R","r":"Sb","v":-3.0,"x":1.564,"lo":11.154,"hi":11.255},
{"p":"R","r":"Sb","v":-3.0,"x":1.764,"lo":11.154,"hi":11.255},
{"p":"R","r":"Sb","v":-3.0,"x":1.791,"lo":11.154,"hi":11.274},
{"p":"R","r":"Sb","v":-3.0,"x":1.90,"lo":11.154,"hi":11.286},
{"p":"R","r":"Sc","v":-2.75,"x":1.673,"lo":11.154,"hi":11.255},
{"p":"R","r":"Sc","v":-2.75,"x":1.764,"lo":11.154,"hi":11.255},
{"p":"R","r":"Sc","v":-2.75,"x":1.791,"lo":11.154,"hi":11.274},
{"p":"R","r":"Sc","v":-2.75,"x":1.90,"lo":11.154,"hi":11.286},
{"p":"R","r":"Sd","v":-2.5,"x":1.78,"lo":11.262,"hi":11.274},
{"p":"R","r":"Sd","v":-2.5,"x":1.836,"lo":11.154,"hi":11.279},
{"p":"R","r":"Sd","v":-2.5,"x":1.90,"lo":11.154,"hi":11.286},
{"p":"R","r":"Ta","v":-3.35,"x":1.382,"lo":11.003,"hi":11.110},
{"p":"R","r":"Ta","v":-3.35,"x":1.609,"lo":11.003,"hi":11.110},
{"p":"R","r":"Tb","v":-3.2,"x":1.455,"lo":11.003,"hi":11.104},
{"p":"R","r":"Tb","v":-3.2,"x":1.536,"lo":11.016,"hi":11.110},
{"p":"R","r":"Tb","v":-3.2,"x":1.609,"lo":11.016,"hi":11.110}
]
},
"hconcat": [
{
  "width": 495, "height": 396,
  "resolve": {"axis": {"x": "independent", "y": "independent"}},
  "layer": [
    {
      "data": {"name": "regions"},
      "transform": [{"filter": "datum.p == 'L'"}],
      "mark": {"type": "area", "orient": "vertical", "stroke": "#6b5a55", "strokeWidth": 2, "strokeJoin": "round", "opacity": 1, "fillOpacity": 1},
      "encoding": {
        "x": {"field": "x", "type": "quantitative", "scale": {"domain": [-2, 2.5], "nice": false, "zero": false}, "axis": {"orient": "bottom", "values": [-2, -1, 0, 1, 2], "labelPadding": 17, "labelExpr": "'' + datum.value"}},
        "y": {"field": "lo", "type": "quantitative", "scale": {"domain": [10, 12.5], "nice": false, "zero": false}, "axis": {"orient": "left", "values": [10, 10.5, 11, 11.5, 12, 12.5], "labelExpr": "'' + datum.value"}},
        "y2": {"field": "hi"},
        "detail": {"field": "r"},
        "color": {"field": "v", "type": "quantitative",
          "scale": {"domain": [-5.001, -4.5, -4, -3.5, -3.2, -3, -2.75, -2.5, -2, -1.5, -1, -0.499], "range": ["#4d5a87", "#2e3192", "#1550a0", "#0a7cc4", "#00aeef", "#00b5cc", "#4fc0b0", "#9ccf8c", "#fff000", "#fbb017", "#f58220", "#ee3424"], "interpolate": "rgb"},
          "legend": {"type": "gradient", "direction": "vertical", "orient": "right", "title": null, "values": [-5, -4.5, -4, -3.5, -3, -2.5, -2, -1.5, -1, -0.5], "labelExpr": "'' + datum.value"}}
      }
    },
    {
      "data": {"name": "lines"},
      "mark": {"type": "rule", "strokeDash": [6, 4], "color": "#000", "strokeWidth": 1.5},
      "encoding": {
        "x": {"field": "x1", "type": "quantitative", "scale": {"domain": [-2, 2.5], "nice": false, "zero": false}, "axis": {"orient": "top", "values": [-2, -1, 0, 1, 2], "labels": false}},
        "y": {"field": "y1", "type": "quantitative", "scale": {"domain": [10, 12.5], "nice": false, "zero": false}, "axis": {"orient": "right", "values": [10, 10.5, 11, 11.5, 12, 12.5], "labels": false}},
        "x2": {"field": "x2"}, "y2": {"field": "y2"}
      }
    },
    {
      "data": {"name": "txt"},
      "transform": [{"filter": "(datum.p == 'L' || datum.p == 'both') && datum.g == 't24'"}],
      "mark": {"type": "text", "align": "left", "baseline": "alphabetic", "fontSize": 24, "font": "Liberation Sans", "color": "#000"},
      "encoding": {
        "x": {"field": "x", "type": "quantitative", "scale": {"domain": [-2, 2.5], "nice": false, "zero": false}, "axis": null},
        "y": {"field": "y", "type": "quantitative", "scale": {"domain": [10, 12.5], "nice": false, "zero": false}, "axis": null},
        "text": {"field": "label"}
      }
    },
    {
      "data": {"name": "txt"},
      "transform": [{"filter": "(datum.p == 'L' || datum.p == 'both') && datum.g == 't17'"}],
      "mark": {"type": "text", "align": "left", "baseline": "alphabetic", "fontSize": 17, "font": "Liberation Sans", "color": "#000"},
      "encoding": {
        "x": {"field": "x", "type": "quantitative", "scale": {"domain": [-2, 2.5], "nice": false, "zero": false}, "axis": null},
        "y": {"field": "y", "type": "quantitative", "scale": {"domain": [10, 12.5], "nice": false, "zero": false}, "axis": null},
        "text": {"field": "label"}
      }
    },
    {
      "data": {"name": "txt"},
      "transform": [{"filter": "(datum.p == 'L' || datum.p == 'both') && datum.g == 'r24'"}],
      "mark": {"type": "text", "align": "left", "baseline": "alphabetic", "angle": 270, "fontSize": 24, "font": "Liberation Sans", "color": "#000"},
      "encoding": {
        "x": {"field": "x", "type": "quantitative", "scale": {"domain": [-2, 2.5], "nice": false, "zero": false}, "axis": null},
        "y": {"field": "y", "type": "quantitative", "scale": {"domain": [10, 12.5], "nice": false, "zero": false}, "axis": null},
        "text": {"field": "label"}
      }
    },
    {
      "data": {"name": "txt"},
      "transform": [{"filter": "(datum.p == 'L' || datum.p == 'both') && datum.g == 'r17'"}],
      "mark": {"type": "text", "align": "left", "baseline": "alphabetic", "angle": 270, "fontSize": 17, "font": "Liberation Sans", "color": "#000"},
      "encoding": {
        "x": {"field": "x", "type": "quantitative", "scale": {"domain": [-2, 2.5], "nice": false, "zero": false}, "axis": null},
        "y": {"field": "y", "type": "quantitative", "scale": {"domain": [10, 12.5], "nice": false, "zero": false}, "axis": null},
        "text": {"field": "label"}
      }
    }
  ]
},
{
  "width": 495, "height": 396,
  "resolve": {"axis": {"x": "independent", "y": "independent"}},
  "layer": [
    {
      "data": {"name": "regions"},
      "transform": [{"filter": "datum.p == 'R'"}],
      "mark": {"type": "area", "orient": "vertical", "stroke": "#6b5a55", "strokeWidth": 2, "strokeJoin": "round", "opacity": 1, "fillOpacity": 1},
      "encoding": {
        "x": {"field": "x", "type": "quantitative", "scale": {"domain": [-2, 2.5], "nice": false, "zero": false}, "axis": {"orient": "bottom", "values": [-2, -1, 0, 1, 2], "labelPadding": 17, "labelExpr": "'' + datum.value"}},
        "y": {"field": "lo", "type": "quantitative", "scale": {"domain": [10, 12.5], "nice": false, "zero": false}, "axis": {"orient": "left", "values": [10, 10.5, 11, 11.5, 12, 12.5], "labelExpr": "'' + datum.value"}},
        "y2": {"field": "hi"},
        "detail": {"field": "r"},
        "color": {"field": "v", "type": "quantitative",
          "scale": {"domain": [-5.001, -4.5, -4, -3.5, -3.2, -3, -2.75, -2.5, -2, -1.5, -1, -0.499], "range": ["#4d5a87", "#2e3192", "#1550a0", "#0a7cc4", "#00aeef", "#00b5cc", "#4fc0b0", "#9ccf8c", "#fff000", "#fbb017", "#f58220", "#ee3424"], "interpolate": "rgb"},
          "legend": {"type": "gradient", "direction": "vertical", "orient": "right", "title": null, "values": [-5, -4.5, -4, -3.5, -3, -2.5, -2, -1.5, -1, -0.5], "labelExpr": "'' + datum.value"}}
      }
    },
    {
      "data": {"name": "lines"},
      "mark": {"type": "rule", "strokeDash": [6, 4], "color": "#000", "strokeWidth": 1.5},
      "encoding": {
        "x": {"field": "x1", "type": "quantitative", "scale": {"domain": [-2, 2.5], "nice": false, "zero": false}, "axis": {"orient": "top", "values": [-2, -1, 0, 1, 2], "labels": false}},
        "y": {"field": "y1", "type": "quantitative", "scale": {"domain": [10, 12.5], "nice": false, "zero": false}, "axis": {"orient": "right", "values": [10, 10.5, 11, 11.5, 12, 12.5], "labels": false}},
        "x2": {"field": "x2"}, "y2": {"field": "y2"}
      }
    },
    {
      "data": {"name": "txt"},
      "transform": [{"filter": "(datum.p == 'R' || datum.p == 'both') && datum.g == 't24'"}],
      "mark": {"type": "text", "align": "left", "baseline": "alphabetic", "fontSize": 24, "font": "Liberation Sans", "color": "#000"},
      "encoding": {
        "x": {"field": "x", "type": "quantitative", "scale": {"domain": [-2, 2.5], "nice": false, "zero": false}, "axis": null},
        "y": {"field": "y", "type": "quantitative", "scale": {"domain": [10, 12.5], "nice": false, "zero": false}, "axis": null},
        "text": {"field": "label"}
      }
    },
    {
      "data": {"name": "txt"},
      "transform": [{"filter": "(datum.p == 'R' || datum.p == 'both') && datum.g == 't17'"}],
      "mark": {"type": "text", "align": "left", "baseline": "alphabetic", "fontSize": 17, "font": "Liberation Sans", "color": "#000"},
      "encoding": {
        "x": {"field": "x", "type": "quantitative", "scale": {"domain": [-2, 2.5], "nice": false, "zero": false}, "axis": null},
        "y": {"field": "y", "type": "quantitative", "scale": {"domain": [10, 12.5], "nice": false, "zero": false}, "axis": null},
        "text": {"field": "label"}
      }
    },
    {
      "data": {"name": "txt"},
      "transform": [{"filter": "(datum.p == 'R' || datum.p == 'both') && datum.g == 'r24'"}],
      "mark": {"type": "text", "align": "left", "baseline": "alphabetic", "angle": 270, "fontSize": 24, "font": "Liberation Sans", "color": "#000"},
      "encoding": {
        "x": {"field": "x", "type": "quantitative", "scale": {"domain": [-2, 2.5], "nice": false, "zero": false}, "axis": null},
        "y": {"field": "y", "type": "quantitative", "scale": {"domain": [10, 12.5], "nice": false, "zero": false}, "axis": null},
        "text": {"field": "label"}
      }
    },
    {
      "data": {"name": "txt"},
      "transform": [{"filter": "(datum.p == 'R' || datum.p == 'both') && datum.g == 'r17'"}],
      "mark": {"type": "text", "align": "left", "baseline": "alphabetic", "angle": 270, "fontSize": 17, "font": "Liberation Sans", "color": "#000"},
      "encoding": {
        "x": {"field": "x", "type": "quantitative", "scale": {"domain": [-2, 2.5], "nice": false, "zero": false}, "axis": null},
        "y": {"field": "y", "type": "quantitative", "scale": {"domain": [10, 12.5], "nice": false, "zero": false}, "axis": null},
        "text": {"field": "label"}
      }
    }
  ]
}
]
}
